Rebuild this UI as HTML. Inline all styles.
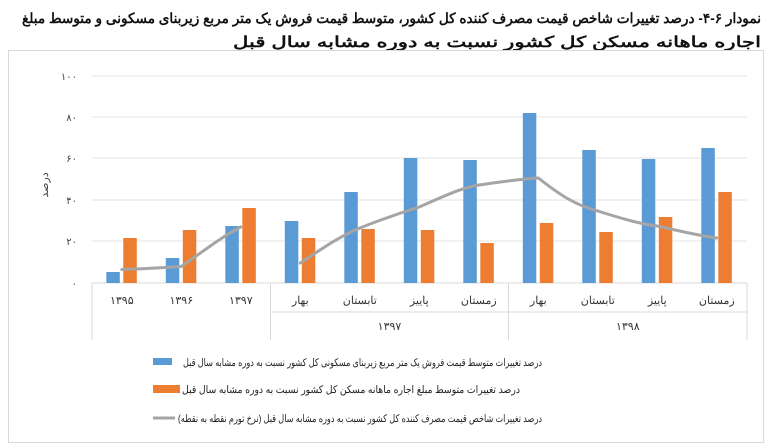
<!DOCTYPE html>
<html><head><meta charset="utf-8"><style>
body{margin:0;background:#fff;}
svg{display:block;font-family:"Liberation Sans","Noto Sans CJK SC",sans-serif;}
</style></head><body>
<svg width="770" height="445" viewBox="0 0 770 445" xmlns="http://www.w3.org/2000/svg">
<text x="22" y="23" font-size="14" font-weight="bold" fill="#111" textLength="739" lengthAdjust="spacingAndGlyphs">نمودار ۶-۴- درصد تغییرات شاخص قیمت مصرف کننده کل کشور، متوسط قیمت فروش یک متر مربع زیربنای مسکونی و متوسط مبلغ</text>
<text x="233" y="47" font-size="15" font-weight="bold" fill="#111" textLength="528" lengthAdjust="spacingAndGlyphs">اجاره ماهانه مسکن کل کشور نسبت به دوره مشابه سال قبل</text>
<rect x="8.5" y="50.5" width="755" height="392" fill="none" stroke="#d9d9d9"/>
<g stroke="#e3e3e3" stroke-width="1">
<line x1="92" y1="76" x2="747" y2="76"/><line x1="92" y1="117" x2="747" y2="117"/>
<line x1="92" y1="158" x2="747" y2="158"/><line x1="92" y1="200" x2="747" y2="200"/>
<line x1="92" y1="241" x2="747" y2="241"/>
</g>
<g stroke="#d9d9d9"><line x1="92" y1="283" x2="747" y2="283"/>
<line x1="92" y1="283" x2="92" y2="340"/><line x1="270.5" y1="283" x2="270.5" y2="340"/>
<line x1="508.5" y1="283" x2="508.5" y2="340"/><line x1="747" y1="283" x2="747" y2="340"/>
<line x1="270.5" y1="312" x2="747" y2="312"/></g>
<g font-size="10" fill="#444" text-anchor="end">
<text x="77" y="80">۱۰۰</text><text x="77" y="121">۸۰</text><text x="77" y="162">۶۰</text>
<text x="77" y="204">۴۰</text><text x="77" y="245">۲۰</text><text x="77" y="287">۰</text></g>
<text transform="translate(48,185) rotate(-90)" text-anchor="middle" font-size="11" fill="#444">درصد</text>
<g fill="#5b9bd5">
<rect x="106.3" y="272" width="13.5" height="11"/>
<rect x="165.8" y="258" width="13.5" height="25"/>
<rect x="225.3" y="226" width="13.5" height="57"/>
<rect x="284.8" y="221" width="13.5" height="62"/>
<rect x="344.3" y="192" width="13.5" height="91"/>
<rect x="403.8" y="158" width="13.5" height="125"/>
<rect x="463.3" y="160" width="13.5" height="123"/>
<rect x="522.8" y="113" width="13.5" height="170"/>
<rect x="582.3" y="150" width="13.5" height="133"/>
<rect x="641.8" y="159" width="13.5" height="124"/>
<rect x="701.3" y="148" width="13.5" height="135"/>
</g>
<g fill="#ed7d31">
<rect x="123.3" y="238" width="13.5" height="45"/>
<rect x="182.8" y="230" width="13.5" height="53"/>
<rect x="242.3" y="208" width="13.5" height="75"/>
<rect x="301.8" y="238" width="13.5" height="45"/>
<rect x="361.3" y="229" width="13.5" height="54"/>
<rect x="420.8" y="230" width="13.5" height="53"/>
<rect x="480.3" y="243" width="13.5" height="40"/>
<rect x="539.8" y="223" width="13.5" height="60"/>
<rect x="599.3" y="232" width="13.5" height="51"/>
<rect x="658.8" y="217" width="13.5" height="66"/>
<rect x="718.3" y="192" width="13.5" height="91"/>
</g>
<g fill="none" stroke="#a5a5a5" stroke-width="3" stroke-linejoin="round" stroke-linecap="round">
<path d="M121.8 269.5 C150 268.5 160 268 181.3 266.5 C205 250 220 238 240.8 227"/>
<path d="M300.3 263 C320 250 340 236 359.8 228 C380 220 400 213 419.3 207 C440 198 460 188 478.8 185 C500 182 520 179 538.3 178 C560 195 575 205 597.8 211 C620 218 640 224 657.3 226 C680 231 700 236 716.8 238"/>
</g>
<g font-size="11" fill="#333" text-anchor="middle">
<text x="121.8" y="304">۱۳۹۵</text><text x="181.3" y="304">۱۳۹۶</text><text x="240.8" y="304">۱۳۹۷</text>
<text x="300.3" y="304">بهار</text><text x="359.8" y="304">تابستان</text><text x="419.3" y="304">پاییز</text><text x="478.8" y="304">زمستان</text>
<text x="538.3" y="304">بهار</text><text x="597.8" y="304">تابستان</text><text x="657.3" y="304">پاییز</text><text x="716.8" y="304">زمستان</text>
<text x="389.5" y="330">۱۳۹۷</text><text x="627.8" y="330">۱۳۹۸</text>
</g>
<rect x="153" y="358" width="19" height="7" fill="#5b9bd5"/>
<rect x="153" y="385" width="27" height="8" fill="#ed7d31"/>
<line x1="153" y1="418" x2="175" y2="418" stroke="#a5a5a5" stroke-width="3"/>
<g font-size="10.5" fill="#222">
<text x="183" y="366" textLength="359" lengthAdjust="spacingAndGlyphs">درصد تغییرات متوسط قیمت فروش یک متر مربع زیربنای مسکونی کل کشور نسبت به دوره مشابه سال قبل</text>
<text x="182" y="393" textLength="338" lengthAdjust="spacingAndGlyphs">درصد تغییرات متوسط مبلغ اجاره ماهانه مسکن کل کشور نسبت به دوره مشابه سال قبل</text>
<text x="178" y="422" textLength="364" lengthAdjust="spacingAndGlyphs">درصد تغییرات شاخص قیمت مصرف کننده کل کشور نسبت به دوره مشابه سال قبل (نرخ تورم نقطه به نقطه)</text>
</g>
</svg>
</body></html>
